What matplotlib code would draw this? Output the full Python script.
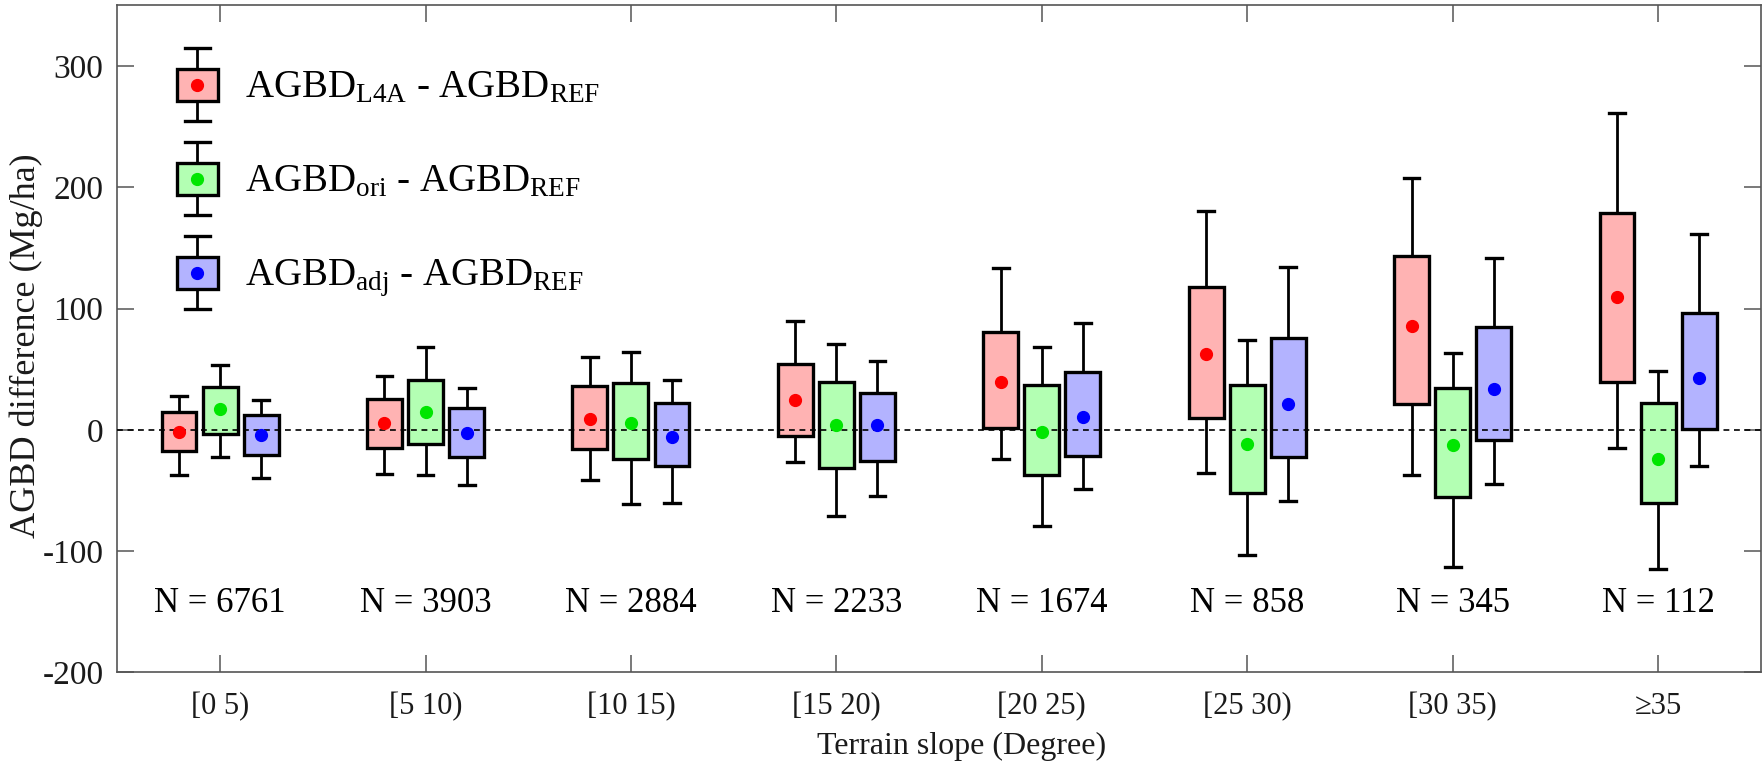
import numpy as np
import matplotlib
matplotlib.use('Agg')
import matplotlib.pyplot as plt

plt.rcParams['font.family'] = ['Liberation Serif', 'DejaVu Serif']
plt.rcParams['mathtext.fontset'] = 'custom'
plt.rcParams['mathtext.rm'] = 'Liberation Serif'
plt.rcParams['mathtext.it'] = 'Liberation Serif:italic'
plt.rcParams['axes.unicode_minus'] = False

# slope classes and sample counts
categories = ['[0 5)', '[5 10)', '[10 15)', '[15 20)', '[20 25)', '[25 30)', '[30 35)', '\u226535']
n_counts = [6761, 3903, 2884, 2233, 1674, 858, 345, 112]

# per class: lower whisker, q1, dot, q3, upper whisker  (Mg/ha)
l4a_lo  = [-37.0, -36.3, -41.2, -26.9, -24.2, -35.7, -37.6, -15.1]
l4a_q1  = [-17.3, -15.1, -15.7,  -4.9,   1.4,   9.6,  21.4,  39.8]
l4a_mid = [ -1.4,   5.5,   9.1,  24.2,  39.6,  62.4,  86.0, 109.9]
l4a_q3  = [ 14.6,  25.5,  36.5,  54.4,  81.0, 118.1, 143.7, 178.6]
l4a_hi  = [ 27.5,  44.5,  60.4,  90.1, 133.8, 180.5, 207.4, 261.5]

ori_lo  = [-22.5, -37.1, -61.0, -71.4, -79.7, -103.0, -113.5, -114.8]
ori_q1  = [ -3.3, -11.8, -24.2, -31.6, -37.4,  -52.2,  -55.0,  -60.4]
ori_mid = [ 17.0,  14.6,   5.5,   3.6,  -1.4,  -11.8,  -12.4,  -24.2]
ori_q3  = [ 35.2,  41.2,  39.0,  39.8,  37.1,   37.1,   34.3,   22.0]
ori_hi  = [ 53.6,  68.7,  64.6,  70.6,  68.1,   74.2,   63.7,   48.6]

adj_lo  = [-39.8, -45.3, -60.4, -54.9, -48.9, -59.0, -44.8, -29.6]
adj_q1  = [-20.6, -22.0, -29.7, -25.5, -21.2, -22.0,  -8.2,   1.0]
adj_mid = [ -4.1,  -2.7,  -5.5,   3.6,  10.4,  21.4,  33.8,  42.7]
adj_q3  = [ 12.4,  17.9,  22.0,  30.2,  47.5,  75.5,  85.2,  96.0]
adj_hi  = [ 24.2,  34.9,  41.2,  56.9,  87.9, 134.6, 141.5, 161.6]

series = [
    ('AGBD$_{\\mathrm{L4A}}$ - AGBD$_{\\mathrm{REF}}$', l4a_lo, l4a_q1, l4a_mid, l4a_q3, l4a_hi, '#FFB3B3', '#FF0000'),
    ('AGBD$_{\\mathrm{ori}}$ - AGBD$_{\\mathrm{REF}}$', ori_lo, ori_q1, ori_mid, ori_q3, ori_hi, '#B3FFB3', '#00E600'),
    ('AGBD$_{\\mathrm{adj}}$ - AGBD$_{\\mathrm{REF}}$', adj_lo, adj_q1, adj_mid, adj_q3, adj_hi, '#B3B3FF', '#0000FF'),
]


def draw_boxes(ax, pos, lo, q1, mid, q3, hi, face, dot, width, capw):
    stats = [dict(whislo=a, q1=b, med=c, mean=c, q3=d, whishi=e, fliers=[])
             for a, b, c, d, e in zip(lo, q1, mid, q3, hi)]
    bp = ax.bxp(stats, positions=pos, widths=width, capwidths=capw,
                patch_artist=True, showmeans=True, showfliers=False,
                manage_ticks=False,
                boxprops=dict(facecolor=face, edgecolor='black', linewidth=2.4),
                whiskerprops=dict(color='black', linewidth=2.0),
                capprops=dict(color='black', linewidth=2.4),
                medianprops=dict(linewidth=0),
                meanprops=dict(marker='o', markerfacecolor=dot, markeredgecolor=dot,
                               markersize=8.5))
    for m in bp['medians']:
        m.set_visible(False)
    for m in bp['means']:
        m.set_zorder(5)


fig = plt.figure(figsize=(17.65, 7.69), dpi=100)
ax = fig.add_axes([0.0665, 0.1257, 0.9311, 0.8672])

x = np.arange(1, len(categories) + 1)
offsets = [-0.2, 0.0, 0.2]
for (label, lo, q1, mid, q3, hi, face, dot), off in zip(series, offsets):
    draw_boxes(ax, x + off, lo, q1, mid, q3, hi, face, dot, 0.17, 0.077)

ax.axhline(0, color='black', linewidth=1.2, linestyle=(0, (3.5, 2.8)), zorder=4)

# N labels under each group
for xi, n in zip(x, n_counts):
    ax.text(xi, -143.5, 'N = %d' % n, ha='center', va='center', fontsize=25)

# hand-made legend: mini boxplots in the upper left
leg_x = 0.89
leg_y = [284.6, 207.1, 129.7]
for (label, lo, q1, mid, q3, hi, face, dot), yc in zip(series, leg_y):
    draw_boxes(ax, [leg_x], [yc - 30], [yc - 13.2], [yc], [yc + 13.2], [yc + 30],
               face, dot, 0.195, 0.12)
    ax.text(1.122, yc - 10.7, label, ha='left', va='baseline', fontsize=28)

ax.set_xlim(0.5, 8.5)
ax.set_ylim(-200, 350)
ax.set_xticks(x)
ax.set_xticklabels(categories)
ax.set_yticks(np.arange(-200, 301, 100))

ax.tick_params(direction='in', top=True, right=True, length=12, width=1.1,
               color='#555555', labelcolor='#1a1a1a')
ax.tick_params(axis='x', pad=14, labelsize=22)
ax.tick_params(axis='y', pad=10, labelsize=24)
for sp in ax.spines.values():
    sp.set_color('#555555')
    sp.set_linewidth(1.2)

fig.text(0.545, 0.0195, 'Terrain slope (Degree)', ha='center', va='baseline',
         fontsize=23, color='#1a1a1a')
fig.text(0.0148, 0.551, 'AGBD difference (Mg/ha)', ha='center', va='center',
         rotation=90, fontsize=26, color='#1a1a1a')

fig.savefig('out.png', dpi=100)
